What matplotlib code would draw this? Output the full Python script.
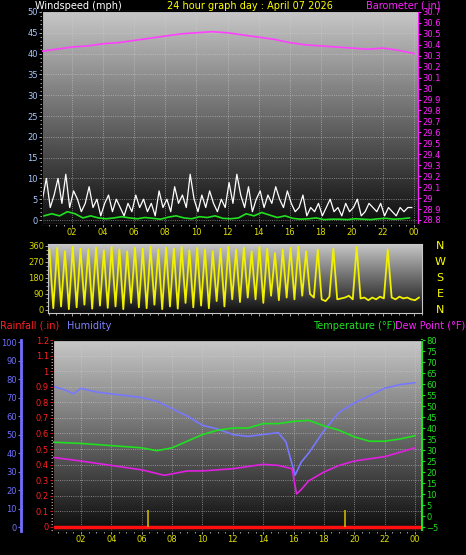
import matplotlib
matplotlib.use("Agg")
import matplotlib.pyplot as plt
import numpy as np

W, H = 466, 555

# ---- data ----
hours = list(range(25))
baro = [30.34, 30.36, 30.38, 30.39, 30.41, 30.42, 30.44, 30.46, 30.48, 30.50, 30.51, 30.52,
        30.51, 30.49, 30.47, 30.45, 30.42, 30.40, 30.39, 30.38, 30.37, 30.36, 30.37, 30.35, 30.32]

gust = [5, 10, 3, 6, 10, 4, 11, 3, 7, 5, 2, 4, 8, 3, 5, 1, 4, 6, 2, 5, 3, 1, 4, 2,
        6, 3, 5, 2, 4, 1, 7, 3, 5, 2, 8, 4, 6, 3, 11, 5, 2, 6, 3, 7, 4, 2, 5, 3,
        9, 4, 11, 6, 3, 8, 2, 5, 7, 3, 6, 4,
        8, 5, 3, 7, 4, 2, 3, 6, 1, 3, 2, 4,
        1, 3, 5, 2, 3, 1, 4, 2, 3, 5, 1, 2,
        4, 3, 2, 4, 1, 3, 2, 1, 3, 2, 3, 3]
wind_avg = [1, 1.5, 1, 2, 1.5, 0.5, 1, 0.5, 0.3, 0.5, 0.8, 0.5, 0.3, 0.6, 0.4, 0.2,
            0.7, 1, 0.5, 0.3, 0.8, 0.6, 1, 0.4, 0.3, 0.5, 1.5, 1, 1.8, 1.2, 0.6, 1,
            0.4, 0.2, 0.3, 0.5, 0.1, 0.2, 0.2, 0.1, 0.3, 0.2, 0.1, 0.3, 0.4, 0.2, 0.3, 0.5]
wind_dir = [340, 10, 350, 20, 330, 5, 355, 15, 345, 30, 340, 8, 350, 25, 335, 12, 355, 20, 340, 5, 330, 40, 350, 15,
            345, 10, 355, 30, 340, 5, 350, 20, 345, 8, 355, 40, 335, 15, 350, 25, 340, 10, 330, 50, 345, 20, 355, 60,
            340, 45, 350, 70, 330, 60, 355, 40, 345, 80, 320, 55,
            340, 70, 350, 60, 355, 80, 330, 90, 70, 340, 60, 50,
            75, 345, 60, 65, 70, 80, 60, 355, 65, 70, 55, 70,
            60, 75, 65, 340, 70, 60, 75, 65, 70, 60, 55, 70]

t_hours = [0, 2, 4, 6, 7, 8, 9, 10, 11, 12, 13, 14, 15, 16, 17, 18, 19, 20, 21, 22, 23, 24]
temp = [33.6, 33, 32, 31, 29.7, 31, 34, 37, 39, 40, 40, 42, 42, 43, 43.5, 41, 39, 36, 34, 34, 35, 36.5]
dew_hours = [0, 2, 4, 6, 7.5, 9, 10, 12, 14, 15, 15.9, 16.2, 16.5, 17, 18, 19, 20, 22, 24]
dew = [26.8, 25, 23, 21, 18.5, 20.5, 20.5, 21.5, 23.5, 23, 21.5, 10, 12, 16, 20, 23, 25, 27, 31]
hum_hours = [0, 1, 1.5, 2, 3, 4, 5, 6, 7, 8, 9, 10, 11, 12, 13, 14, 15, 15.5, 16.1, 16.5, 17, 18,
             19, 20, 21, 22, 23, 24]
humidity = [76.4, 74, 72, 75, 73, 72, 71, 70, 68, 64, 60, 55, 53, 50, 49, 50, 51, 46, 28, 35, 40, 52,
            62, 67, 71, 75, 77, 78]
rain_marks = [6.4, 19.4]

hour_labels = ["02", "04", "06", "08", "10", "12", "14", "16", "18", "20", "22", "00"]
hour_ticks = list(range(2, 25, 2))

plt.rcParams["font.family"] = "DejaVu Sans"
FS = 6
fig = plt.figure(figsize=(W / 100, H / 100), dpi=100, facecolor="black")


def px_axes(x0, y0, x1, y1):
    return fig.add_axes([x0 / W, 1 - y1 / H, (x1 - x0) / W, (y1 - y0) / H])


grad = np.linspace(0.78, 0.05, 256).reshape(-1, 1)


def style(ax):
    ax.set_facecolor("black")
    ax.imshow(grad, extent=[0, 1, 0, 1], transform=ax.transAxes, aspect="auto",
              cmap="gray", vmin=0, vmax=1, zorder=0)
    for s in ax.spines.values():
        s.set_color("#c8c8c8")
    ax.grid(True, color="#d0d0d0", linestyle=":", linewidth=0.6, alpha=0.7)
    ax.tick_params(colors="#c0c0c0", labelsize=FS, length=2, width=0.6, pad=1)
    ax.minorticks_on()
    ax.tick_params(which="minor", length=1.5, colors="#c0c0c0")


# ---- top: wind + barometer ----
ax1 = px_axes(42, 11, 418, 224)
style(ax1)
gh = np.arange(len(gust)) * 0.25 + 0.1
ax1.plot(gh, gust, color="white", lw=0.9, zorder=3)
ah = np.arange(len(wind_avg)) * 0.5 + 0.2
ax1.plot(ah, wind_avg, color="#20e020", lw=1.2, zorder=4)
ax1.set_xlim(0.07, 24.25)
ax1.set_ylim(-0.96, 50.24)
ax1.set_yticks(range(0, 51, 5))
ax1.set_xticks(hour_ticks)
ax1.set_xticklabels(hour_labels, color="#e0e000")
ax1.tick_params(axis="y", labelcolor="#a8c8ff")
ax1b = ax1.twinx()
ax1b.plot(hours, baro, color="#ff40ff", lw=1.2, zorder=5)
ax1b.set_ylim(28.763, 30.709)
ax1b.set_yticks(np.round(np.arange(28.8, 30.71, 0.1), 1))
ax1b.set_yticklabels([f"{v:g}" for v in np.round(np.arange(28.8, 30.71, 0.1), 1)])
ax1b.tick_params(colors="#ff20ff", labelsize=FS, length=2, pad=1)
ax1b.spines["right"].set_color("#ff20ff")

fig.text(35 / W, 1 - 6 / H, "Windspeed (mph)", color="white", fontsize=7, va="center")
fig.text(250 / W, 1 - 6 / H, "24 hour graph day : April 07 2026", color="#ffff00", fontsize=7,
         ha="center", va="center")
fig.text(440 / W, 1 - 6 / H, "Barometer (.in)", color="#ff20ff", fontsize=7, ha="right", va="center")

# ---- middle: wind direction ----
ax2 = px_axes(48, 244, 422, 313)
style(ax2)
dh = np.arange(len(wind_dir)) * 0.25 + 0.55
ax2.plot(dh, wind_dir, color="#f0f000", lw=1.3, zorder=3)
ax2.set_xlim(0.46, 24.5)
ax2.set_ylim(-16.9, 371)
ax2.set_yticks([0, 90, 180, 270, 360])
ax2.tick_params(axis="y", labelcolor="#d8d800")
ax2.set_xticks(hour_ticks)
ax2.set_xticklabels([])
ax2.grid(False)
for i, lab in enumerate(["N", "W", "S", "E", "N"]):
    fig.text(440 / W, 1 - (246 + i * 16) / H, lab, color="#ffff00", fontsize=8, ha="center", va="center")

# ---- bottom: rain, humidity, temp, dew ----
ax3 = px_axes(53, 340, 422, 531)
style(ax3)
ax3.set_xlim(0.16, 24.46)
ax3.set_ylim(-0.026, 1.2)
ax3.axhline(0, color="#ff1010", lw=2.5, zorder=6)
ax3.vlines(rain_marks, 0, 0.11, color="#c8b400", lw=1.2, zorder=6)
ax3.set_yticks(np.round(np.arange(0, 1.21, 0.1), 1))
ax3.set_yticklabels([f"{v:g}" for v in np.round(np.arange(0, 1.21, 0.1), 1)])
ax3.tick_params(axis="y", labelcolor="#ff2020", colors="#ff2020")
ax3.spines["left"].set_color("#ff4040")
ax3.spines["left"].set_linestyle((0, (2, 1)))
ax3.set_xticks(hour_ticks)
ax3.set_xticklabels(hour_labels, color="#e0e000")

ax3h = ax3.twinx()
ax3h.yaxis.tick_left()
ax3h.spines["left"].set_position(("outward", 23))
ax3h.spines["left"].set_visible(True)
ax3h.spines["left"].set_color("#7070ff")
ax3h.spines["left"].set_linewidth(2)
ax3h.plot(hum_hours, humidity, color="#7878ff", lw=1.2, zorder=4)
ax3h.set_ylim(-2.16, 101.1)
ax3h.set_yticks(range(0, 101, 10))
ax3h.tick_params(colors="#7070ff", labelsize=FS, length=2, pad=1)

ax3t = ax3.twinx()
ax3t.plot(t_hours, temp, color="#20e020", lw=1.2, zorder=4)
ax3t.plot(dew_hours, dew, color="#e020e0", lw=1.2, zorder=4)
ax3t.set_ylim(-6.8, 80)
ax3t.set_yticks(range(-5, 81, 5))
ax3t.tick_params(colors="#20e020", labelsize=FS, length=2, pad=1)
ax3t.spines["right"].set_color("#20e020")
ax3t.spines["right"].set_linewidth(1.5)

fig.text(0, 1 - 326 / H, "Rainfall (.in)", color="#ff2020", fontsize=7, va="center")
fig.text(67 / W, 1 - 326 / H, "Humidity", color="#8080ff", fontsize=7, va="center")
fig.text(313 / W, 1 - 326 / H, "Temperature (°F)", color="#20e020", fontsize=7, va="center")
fig.text(395 / W, 1 - 326 / H, "Dew Point (°F)", color="#ff20ff", fontsize=7, va="center")

fig.savefig("out.png", dpi=100, facecolor="black")
